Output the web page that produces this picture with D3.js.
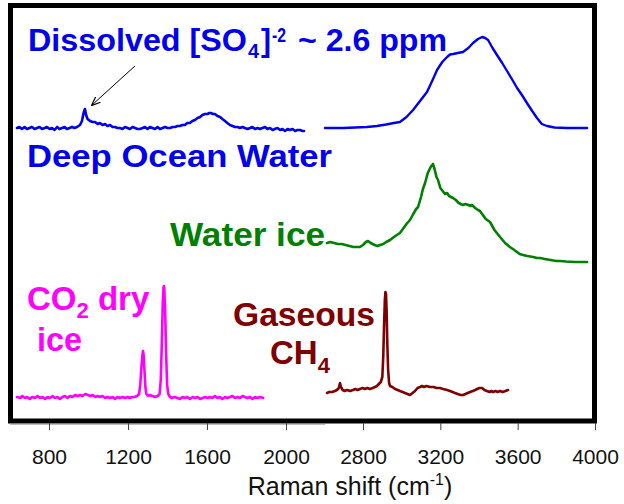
<!DOCTYPE html>
<html><head><meta charset="utf-8">
<script src="https://cdn.jsdelivr.net/npm/d3@7/dist/d3.min.js"></script>
<style>
body{margin:0;background:#fff;}
svg text{font-family:"Liberation Sans",Arial,sans-serif;}
</style></head>
<body><svg id="c" width="624" height="504"></svg>
<script>
// Raman shift (cm-1) vs relative intensity (arbitrary, offset-stacked)
const ticksLow = [800, 1200, 1600, 2000];
const ticksHigh = [2800, 3200, 3600, 4000];

const oceanLow = [[638,297],[650,298],[663,296],[676,298],[689,296],[701,297],[714,298],[727,296],[739,297],[752,298],[765,296],[778,297],[790,298],[803,296],[815,297],[828,295],[841,298],[853,296],[866,297],[879,298],[891,296],[904,297],[916,298],[929,297],[942,298],[957,300],[967,304],[975,312],[982,316],[988,310],[995,306],[1008,304],[1020,303],[1033,303],[1046,301],[1058,302],[1071,300],[1084,301],[1096,299],[1109,300],[1122,298],[1134,298],[1147,297],[1159,297],[1172,296],[1185,298],[1198,297],[1210,296],[1223,298],[1236,297],[1248,296],[1261,296],[1274,297],[1286,298],[1299,296],[1311,298],[1324,297],[1337,296],[1350,298],[1362,296],[1375,297],[1388,298],[1400,297],[1413,297],[1426,298],[1438,298],[1451,299],[1463,299],[1476,300],[1488,300],[1500,302],[1513,302],[1526,304],[1539,305],[1552,307],[1565,308],[1577,310],[1590,311],[1602,311],[1612,312],[1620,312],[1630,311],[1640,311],[1653,309],[1666,308],[1678,306],[1691,304],[1703,302],[1716,300],[1729,299],[1742,298],[1755,298],[1767,297],[1780,298],[1792,297],[1805,296],[1818,297],[1830,298],[1843,296],[1856,297],[1868,296],[1881,297],[1894,298],[1906,296],[1919,297],[1932,295],[1944,296],[1957,297],[1970,295],[1982,296],[1995,294],[2008,296],[2020,295],[2033,296],[2046,294],[2058,295],[2071,295],[2083,294],[2091,294]];

const oceanHigh = [[2603,297],[2650,297],[2700,297],[2760,297.5],[2820,298],[2872,299],[2920,300.5],[2960,302],[2991,303],[3025,308],[3059,315],[3095,324],[3131,333],[3160,345],[3183,355],[3210,363],[3235,368],[3250,370.5],[3266,371],[3290,372],[3317,373],[3345,377],[3369,382],[3395,386],[3416,388],[3432,387],[3447,385],[3470,377],[3493,370],[3520,362],[3545,354],[3570,346],[3597,337],[3622,330],[3648,322],[3675,314],[3700,307],[3725,301],[3752,299],[3790,297.5],[3855,297],[3959,297]];

const waterIce = [[2614,182],[2630,183],[2650,182],[2670,181],[2690,181],[2710,180],[2730,179],[2750,178],[2770,178],[2784,178],[2800,180],[2815,183],[2826,184],[2840,182],[2860,180],[2875,179],[2888,180],[2905,181],[2920,183],[2940,185],[2960,188],[2975,190],[2991,192],[3010,197],[3025,201],[3043,205],[3060,211],[3075,216],[3085,218],[3100,228],[3110,236],[3121,242],[3135,252],[3150,258],[3162,261],[3170,256],[3180,248],[3188,245],[3200,237],[3212,234],[3224,231],[3235,232],[3245,229],[3255,228],[3266,227],[3280,225],[3295,222],[3305,221],[3317,220],[3330,221],[3345,220],[3355,219],[3364,220],[3380,217],[3395,215],[3405,214],[3420,210],[3435,206],[3457,203],[3480,195],[3509,188],[3535,182],[3560,178],[3590,174],[3610,171],[3628,170],[3650,169],[3680,168],[3700,167],[3716,167],[3740,166],[3770,165],[3800,164],[3819,164],[3850,163.5],[3900,163],[3959,163]];

const co2Ice = [[638,28],[655,27],[665,29],[678,27],[690,28],[703,26],[715,28],[729,27],[742,29],[755,27],[768,28],[780,26],[793,28],[805,27],[818,29],[830,27],[843,28],[856,26],[868,28],[881,29],[894,27],[906,29],[919,28],[932,30],[945,29],[958,30],[970,29],[984,31],[997,30],[1010,29],[1022,30],[1035,28],[1046,29],[1058,28],[1071,29],[1084,27],[1096,28],[1109,27],[1122,28],[1134,26],[1147,28],[1159,27],[1172,28],[1185,27],[1198,28],[1210,27],[1222,28],[1234,28],[1246,29],[1256,31],[1262,40],[1268,58],[1273,70],[1276,74],[1279,70],[1283,56],[1288,38],[1293,31],[1302,29],[1311,30],[1324,29],[1337,28],[1350,29],[1360,31],[1366,45],[1371,80],[1376,122],[1380,138],[1382,139],[1384,135],[1388,115],[1393,72],[1398,40],[1404,31],[1413,28],[1423,27],[1436,28],[1450,27],[1463,26],[1476,28],[1488,27],[1500,28],[1514,26],[1527,28],[1540,27],[1552,28],[1565,26],[1578,27],[1590,28],[1603,27],[1615,28],[1628,27],[1640,29],[1653,27],[1666,28],[1678,26],[1691,28],[1704,27],[1716,28],[1729,29],[1742,27],[1755,28],[1767,27],[1780,29],[1792,28],[1805,27],[1818,28],[1830,26],[1843,28],[1856,27],[1870,28],[1884,27]];

const methaneGas = [[2614,32],[2625,33],[2640,33],[2655,34],[2665,35],[2675,37],[2681,42],[2686,38],[2695,35],[2705,34],[2718,35],[2733,34],[2748,35],[2760,36],[2772,35],[2784,36],[2798,37],[2810,36],[2822,37],[2836,36],[2850,37],[2862,38],[2872,39],[2882,41],[2892,43],[2900,48],[2905,70],[2909,100],[2913,125],[2916,133],[2919,131],[2922,115],[2926,80],[2930,55],[2935,42],[2940,39],[2952,38],[2966,36],[2980,35],[2991,34],[3005,33],[3017,32],[3030,31],[3043,30],[3056,32],[3069,34],[3082,37],[3095,38],[3105,39],[3115,38],[3128,39],[3147,38],[3165,38],[3180,37],[3198,37],[3215,36],[3235,35],[3250,34],[3263,33],[3276,32],[3290,31],[3305,30],[3317,30],[3330,31],[3342,32],[3354,33],[3368,34],[3380,35],[3390,36],[3403,37],[3416,37],[3428,35],[3441,34],[3455,33],[3464,34],[3473,33],[3485,34],[3497,33],[3509,34],[3522,33],[3537,34],[3550,35]];

const arrowFromTo = [[1235,359],[1018,320]];

const svg = d3.select("#c");
const xLow = d3.scaleLinear().domain([800, 2000]).range([49, 286]);
const xHigh = d3.scaleLinear().domain([2800, 4000]).range([363, 595]);
const y = d3.scaleLinear().domain([0, 425]).range([425, 0]);

// frame
svg.append("line").attr("x1",10).attr("x2",325).attr("y1",424.5).attr("y2",424.5).attr("stroke","#bbb").attr("stroke-width",1);
svg.append("rect").attr("x",10.5).attr("y",5.5).attr("width",584).attr("height",415.5)
  .attr("fill","none").attr("stroke","#000").attr("stroke-width",5);

// axes
function drawAxis(scale, vals){
  const g = svg.append("g").attr("transform","translate(0,423)")
    .call(d3.axisBottom(scale).tickValues(vals).tickSize(7).tickPadding(19).tickFormat(d3.format("d")));
  g.select(".domain").remove();
  g.selectAll(".tick line").attr("stroke","#444");
  g.selectAll(".tick text").attr("font-size",21).attr("fill","#111")
    .style("font-family",'"Liberation Sans",Arial,sans-serif');
}
drawAxis(xLow, ticksLow);
drawAxis(xHigh, ticksHigh);

const xt = svg.append("text").attr("x",350).attr("y",495).attr("text-anchor","middle")
  .attr("font-size",25).attr("fill","#111");
xt.append("tspan").text("Raman shift (cm");
xt.append("tspan").attr("font-size",16).attr("dy",-10).text("-1");
xt.append("tspan").attr("dy",10).text(")");

// spectra
function spectrum(data, xs, color, w){
  svg.append("path").datum(data)
    .attr("d", d3.line().x(d=>xs(d[0])).y(d=>y(d[1])))
    .attr("fill","none").attr("stroke",color).attr("stroke-width",w)
    .attr("stroke-linejoin","round").attr("stroke-linecap","round");
}
const blue = "#0000ee", green = "#008000", magenta = "#ff00ff", maroon = "#800000";
spectrum(oceanLow, xLow, blue, 2.6);
spectrum(oceanHigh, xHigh, blue, 2.4);
spectrum(waterIce, xHigh, green, 2.6);
spectrum(co2Ice, xLow, magenta, 2.6);
spectrum(methaneGas, xHigh, maroon, 2.6);

// arrow
svg.append("defs").append("marker").attr("id","ah").attr("viewBox","0 0 10 10")
  .attr("refX",9).attr("refY",5).attr("markerWidth",9).attr("markerHeight",9).attr("orient","auto")
  .attr("markerUnits","userSpaceOnUse")
  .append("path").attr("d","M0,1 L10,5 L0,9").attr("fill","none").attr("stroke","#000").attr("stroke-width",1.3);
svg.append("line")
  .attr("x1",xLow(arrowFromTo[0][0])).attr("y1",y(arrowFromTo[0][1]))
  .attr("x2",xLow(arrowFromTo[1][0])).attr("y2",y(arrowFromTo[1][1]))
  .attr("stroke","#000").attr("stroke-width",1).attr("marker-end","url(#ah)");

// labels
function txt(x, yy, color, size, s, len){
  const t = svg.append("text").attr("x",x).attr("y",yy).attr("fill",color)
    .attr("font-size",size).attr("font-weight","bold").text(s);
  if(len){ t.attr("textLength",len).attr("lengthAdjust","spacingAndGlyphs"); }
  return t;
}
function label(x, yy, color, size, parts){
  const t = svg.append("text").attr("x",x).attr("y",yy).attr("fill",color)
    .attr("font-size",size).attr("font-weight","bold");
  parts.forEach(p=>{
    const s = t.append("tspan").text(p.t);
    if(p.fs) s.attr("font-size",p.fs);
    if(p.dy) s.attr("dy",p.dy);
    if(p.dx) s.attr("dx",p.dx);
  });
}
txt(28, 51, blue, 31, "Dissolved [SO", 219);
txt(248, 58, blue, 20, "4", 11);
txt(261, 51, blue, 31, "]", 10);
txt(272, 42, blue, 20, "-2", 14);
txt(298, 51, blue, 31, "~ 2.6 ppm", 149);
txt(27, 167, blue, 31, "Deep Ocean Water", 305);
txt(170, 246, green, 33, "Water ice", 155);
label(27, 310, magenta, 33, [{t:"CO"},{t:"2",fs:22,dy:8},{t:" dry",dy:-8}]);
txt(37, 351, magenta, 33, "ice", 45);
txt(233, 326, maroon, 33, "Gaseous", 142);
label(270, 364, maroon, 33, [{t:"CH"},{t:"4",fs:22,dy:9}]);
</script></body></html>
